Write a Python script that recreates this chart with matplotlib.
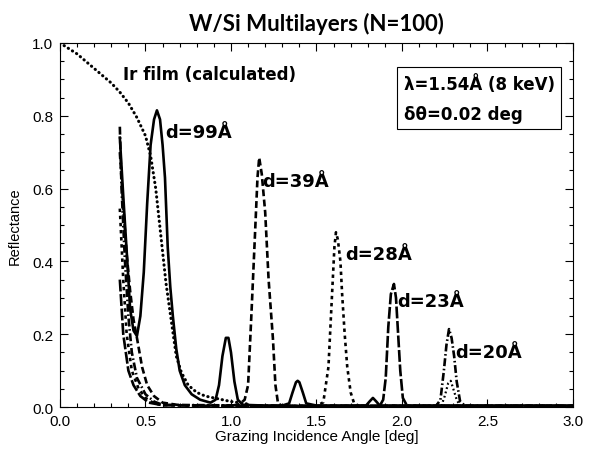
import matplotlib
matplotlib.use("Agg")
import matplotlib.pyplot as plt

# ---------------- data ----------------
ir_x = [0.0, 0.05, 0.1, 0.15, 0.2, 0.25, 0.3, 0.35, 0.4, 0.45, 0.5, 0.53, 0.56,
        0.59, 0.62, 0.65, 0.68, 0.71, 0.75, 0.8, 0.85, 0.9, 0.95, 1.0, 1.05, 1.1]
ir_y = [1.0, 0.985, 0.97, 0.95, 0.93, 0.91, 0.89, 0.865, 0.835, 0.795, 0.745, 0.69, 0.60,
        0.47, 0.34, 0.24, 0.14, 0.095, 0.06, 0.04, 0.03, 0.025, 0.02, 0.015, 0.012, 0.008]

d99_x = [0.35, 0.37, 0.395, 0.41, 0.43, 0.45, 0.47, 0.49, 0.51, 0.53, 0.55, 0.567,
         0.585, 0.60, 0.614, 0.63, 0.645, 0.66, 0.68, 0.70, 0.73, 0.77, 0.82, 0.88,
         0.91, 0.93, 0.95, 0.97, 0.985, 1.0, 1.02, 1.04, 1.07, 1.2, 1.3, 1.34, 1.36,
         1.38, 1.39, 1.40, 1.42, 1.44, 1.5, 1.6, 1.7, 1.79, 1.81, 1.83, 1.85, 1.87,
         2.0, 2.3, 2.6, 3.0]
d99_y = [0.74, 0.58, 0.39, 0.27, 0.21, 0.195, 0.25, 0.37, 0.56, 0.72, 0.79, 0.815,
         0.79, 0.72, 0.63, 0.44, 0.33, 0.25, 0.16, 0.10, 0.06, 0.035, 0.02, 0.012,
         0.02, 0.06, 0.14, 0.19, 0.19, 0.15, 0.07, 0.02, 0.006, 0.004, 0.004, 0.01, 0.04,
         0.068, 0.072, 0.068, 0.04, 0.01, 0.004, 0.004, 0.004, 0.004, 0.015, 0.025, 0.015, 0.004,
         0.004, 0.004, 0.004, 0.004]

d39_x = [0.35, 0.37, 0.39, 0.41, 0.43, 0.45, 0.48, 0.51, 0.55, 0.6, 0.7, 0.9, 1.0,
         1.05, 1.08, 1.10, 1.12, 1.14, 1.155, 1.165, 1.18, 1.20, 1.22, 1.245, 1.26,
         1.275, 1.3, 1.6, 2.0, 2.5, 3.0]
d39_y = [0.70, 0.55, 0.42, 0.32, 0.24, 0.19, 0.11, 0.06, 0.03, 0.012, 0.005, 0.003, 0.003,
         0.008, 0.02, 0.06, 0.26, 0.47, 0.63, 0.685, 0.64, 0.535, 0.35, 0.19, 0.06,
         0.01, 0.003, 0.003, 0.003, 0.003, 0.003]

d28_x = [0.35, 0.37, 0.39, 0.42, 0.46, 0.5, 0.55, 0.6, 1.0, 1.5, 1.54, 1.57, 1.59,
         1.605, 1.614, 1.625, 1.64, 1.65, 1.665, 1.68, 1.70, 1.72, 1.75, 2.2, 3.0]
d28_y = [0.545, 0.35, 0.20, 0.10, 0.05, 0.025, 0.01, 0.005, 0.003, 0.003, 0.013, 0.11, 0.30,
         0.44, 0.48, 0.46, 0.40, 0.31, 0.20, 0.11, 0.04, 0.01, 0.003, 0.003, 0.003]

d23_x = [0.35, 0.37, 0.40, 0.43, 0.47, 0.52, 0.6, 1.2, 1.87, 1.89, 1.905, 1.92, 1.935,
         1.953, 1.965, 1.975, 1.99, 2.005, 2.03, 2.5, 3.0]
d23_y = [0.35, 0.20, 0.10, 0.06, 0.03, 0.012, 0.005, 0.003, 0.003, 0.02, 0.08, 0.22, 0.31,
         0.338, 0.30, 0.22, 0.10, 0.025, 0.003, 0.003, 0.003]

d20_x = [0.35, 0.36, 0.38, 0.40, 0.42, 0.45, 0.5, 0.55, 0.6, 1.4, 2.2, 2.225, 2.245,
         2.26, 2.275, 2.29, 2.305, 2.32, 2.34, 2.37, 3.0]
d20_y = [0.77, 0.60, 0.40, 0.25, 0.15, 0.08, 0.035, 0.015, 0.006, 0.003, 0.003, 0.02, 0.10,
         0.17, 0.214, 0.19, 0.14, 0.07, 0.015, 0.003, 0.003]

d20b_x = [2.23, 2.25, 2.27, 2.285, 2.30, 2.32, 2.34]
d20b_y = [0.003, 0.03, 0.065, 0.072, 0.05, 0.02, 0.003]

labels = ["d=99Å", "d=39Å", "d=28Å", "d=23Å", "d=20Å"]
label_x = [0.615, 1.185, 1.67, 1.975, 2.31]
label_y = [0.755, 0.62, 0.42, 0.29, 0.15]

x_ticks = [0.0, 0.5, 1.0, 1.5, 2.0, 2.5, 3.0]
y_ticks = [0.0, 0.2, 0.4, 0.6, 0.8, 1.0]

# ---------------- figure ----------------
fig = plt.figure(figsize=(5.91, 4.52), dpi=100)
ax = fig.add_axes([0.1015, 0.0973, 0.868, 0.8054])

lw = 1.9
ax.plot(ir_x, ir_y, color="black", lw=2.2, ls=(0, (0.1, 1.5)), dash_capstyle="round")
ax.plot(d99_x, d99_y, color="black", lw=lw, ls="-")
ax.plot(d39_x, d39_y, color="black", lw=lw, ls=(0, (2.6, 1.3)))
ax.plot(d28_x, d28_y, color="black", lw=lw, ls=(0, (1.3, 1.4)))
ax.plot(d23_x, d23_y, color="black", lw=lw, ls=(0, (4.5, 1.0)))
ax.plot(d20_x, d20_y, color="black", lw=lw, ls=(0, (3.0, 1.0, 0.6, 1.0)))
ax.plot(d20b_x, d20b_y, color="black", lw=1.6, ls=(0, (0.8, 1.2)))

ann_font = dict(family=["DejaVu Sans"], fontsize=13, fontweight="bold")
for t, lx, ly in zip(labels, label_x, label_y):
    ax.text(lx, ly, t, ha="left", va="center", **ann_font)
ax.text(0.37, 0.915, "Ir film (calculated)", ha="left", va="center",
        family=["DejaVu Sans"], fontsize=12, fontweight="bold")

ax.text(2.01, 0.848, "λ=1.54Å (8 keV)\nδθ=0.02 deg", ha="left", va="center",
        linespacing=1.85, bbox=dict(boxstyle="square,pad=0.4", fc="white", ec="black", lw=0.8),
        family=["DejaVu Sans"], fontsize=12, fontweight="bold")

ax.set_xlim(0, 3.0)
ax.set_ylim(0, 1.0)
ax.set_xticks(x_ticks)
ax.set_yticks(y_ticks)
ax.set_xticks([i * 0.1 for i in range(31)], minor=True)
ax.set_yticks([i * 0.05 for i in range(21)], minor=True)
ax.set_xticklabels([f"{v:.1f}" for v in x_ticks])
ax.set_yticklabels([f"{v:.1f}" for v in y_ticks])
ax.tick_params(which="both", direction="in", top=True, right=True, width=0.8,
               labelsize=11, pad=5)
ax.tick_params(which="major", length=6)
ax.tick_params(which="minor", length=3)
for lab in ax.get_xticklabels() + ax.get_yticklabels():
    lab.set_fontfamily("Liberation Sans")
for s in ax.spines.values():
    s.set_linewidth(0.8)

ax.set_xlabel("Grazing Incidence Angle [deg]", fontsize=11, family="Liberation Sans", labelpad=1)
ax.set_ylabel("Reflectance", fontsize=10.5, family="Liberation Sans", labelpad=7)
ax.set_title("W/Si Multilayers (N=100)", fontsize=16, family="Lato",
             fontweight="bold", pad=9)

fig.savefig("out.png", dpi=100)
